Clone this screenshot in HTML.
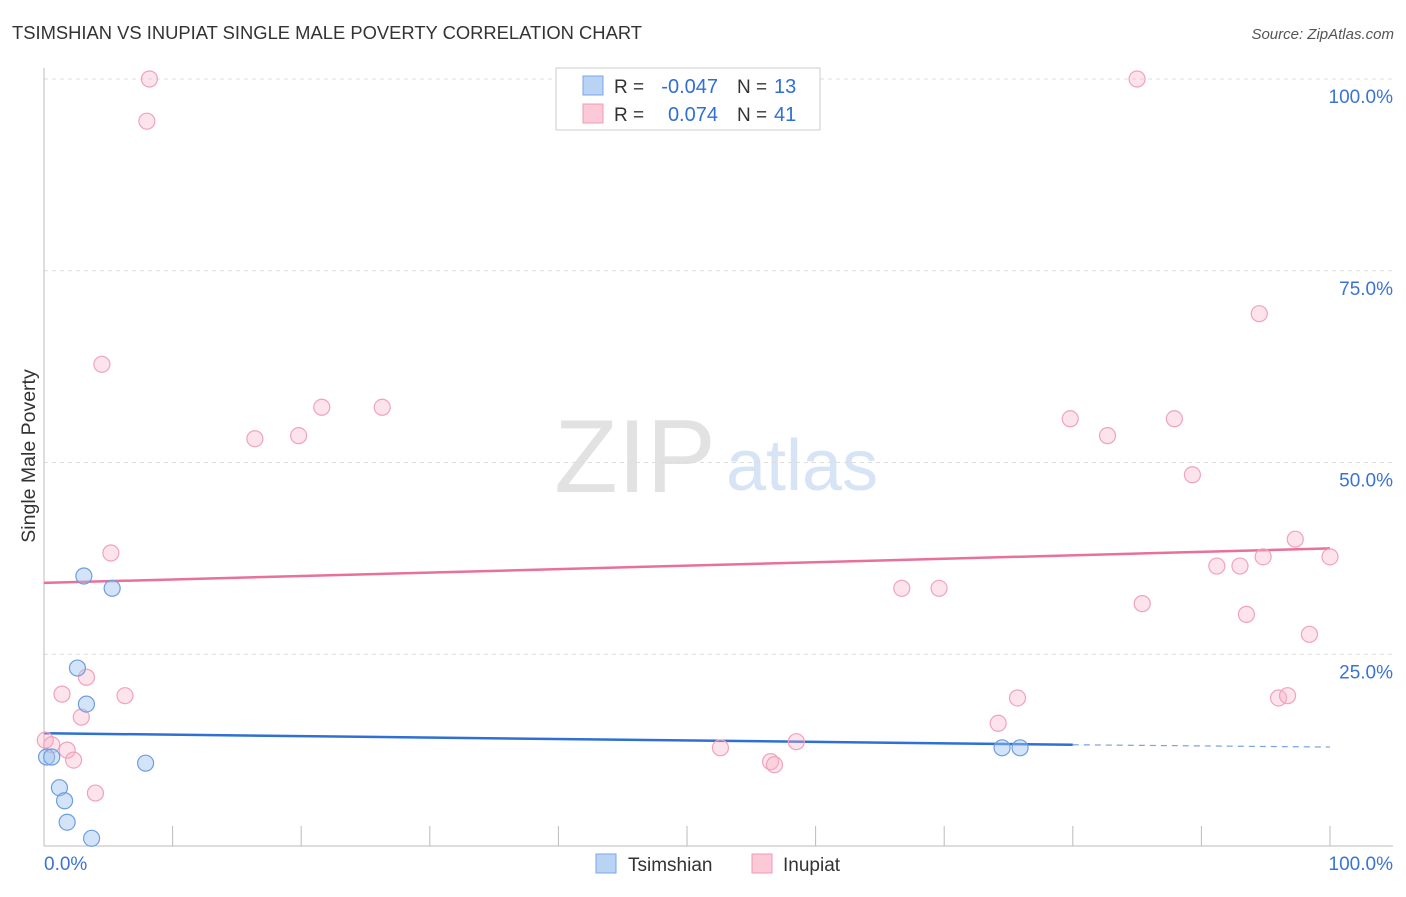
<!DOCTYPE html>
<html><head><meta charset="utf-8"><style>
body{margin:0;background:#fff;font-family:"Liberation Sans",sans-serif;}
svg text{font-family:"Liberation Sans",sans-serif;}
</style></head><body>
<svg id="c" width="1406" height="892">
<text x="12" y="39" font-size="18" fill="#333" textLength="630" lengthAdjust="spacingAndGlyphs">TSIMSHIAN VS INUPIAT SINGLE MALE POVERTY CORRELATION CHART</text>
<text x="1394" y="39" font-size="15" fill="#555" font-style="italic" text-anchor="end">Source: ZipAtlas.com</text>
<text x="35" y="456" font-size="19.5" fill="#333" text-anchor="middle" transform="rotate(-90 35 456)">Single Male Poverty</text>
<g><text x="635" y="492" font-size="104" fill="#e2e2e2" font-family="Liberation Serif" text-anchor="middle">ZIP</text><text x="802" y="490" font-size="72" fill="#d6e4f6" text-anchor="middle">atlas</text></g>
<g id="grid"></g><g id="axes"></g><g id="lines"></g><g id="pts"></g>
<g>
<rect x="556" y="68" width="264" height="62" fill="#fff" stroke="#ccc"/>
<rect x="583" y="76" width="20" height="19" fill="#b9d3f5" stroke="#7aa6e6"/>
<rect x="583" y="104" width="20" height="19" fill="#fbc9d7" stroke="#f09ab3"/>
<text x="614" y="93" font-size="19" fill="#333">R =</text>
<text x="718" y="93" font-size="20" fill="#2f6fd6" text-anchor="end">-0.047</text>
<text x="737" y="93" font-size="19" fill="#333">N =</text>
<text x="774" y="93" font-size="20" fill="#2f6fd6">13</text>
<text x="614" y="121" font-size="19" fill="#333">R =</text>
<text x="718" y="121" font-size="20" fill="#2f6fd6" text-anchor="end">0.074</text>
<text x="737" y="121" font-size="19" fill="#333">N =</text>
<text x="774" y="121" font-size="20" fill="#2f6fd6">41</text>
</g>
<g>
<rect x="596" y="854" width="20" height="19" fill="#b9d3f5" stroke="#7aa6e6"/>
<text x="628" y="871" font-size="19" fill="#333">Tsimshian</text>
<rect x="752" y="854" width="20" height="19" fill="#fbc9d7" stroke="#f09ab3"/>
<text x="783" y="871" font-size="19" fill="#333">Inupiat</text>
</g>
</svg>
<script>
const yTicks=[25,50,75,100];
const yTickLabels=["25.0%","50.0%","75.0%","100.0%"];
const xTickLabels=["0.0%","100.0%"];
const tsX=[0.2,0.6,3.1,5.3,2.6,3.3,7.9,1.2,1.6,1.8,3.7,74.5,75.9];
const tsY=[11.6,11.6,35.2,33.6,23.2,18.5,10.8,7.6,5.9,3.1,1.0,12.8,12.8];
const inX=[8.2,8.0,4.5,5.2,1.4,3.3,6.3,2.9,1.8,2.3,4.0,0.1,0.6,16.4,19.8,21.6,26.3,52.6,56.5,56.8,58.5,66.7,69.6,74.2,75.7,79.8,82.7,85.0,85.4,87.9,89.3,91.2,93.0,93.5,94.5,94.8,96.0,96.7,97.3,98.4,100];
const inY=[100,94.5,62.8,38.2,19.8,22.0,19.6,16.8,12.5,11.2,6.9,13.8,13.2,53.1,53.5,57.2,57.2,12.8,11.0,10.6,13.6,33.6,33.6,16.0,19.3,55.7,53.5,100,31.6,55.7,48.4,36.5,36.5,30.2,69.4,37.7,19.3,19.6,40.0,27.6,37.7];
const tsTrend=[14.7,13.2,12.9];
const inTrend=[34.3,38.8];
const X=v=>44+12.86*v, Y=v=>846-7.67*v;
const NS="http://www.w3.org/2000/svg";
function mk(p,t,a){const e=document.createElementNS(NS,t);for(const k in a)e.setAttribute(k,a[k]);document.getElementById(p).appendChild(e);return e;}
yTicks.forEach((t,i)=>{
 const g=mk('grid','line',{x1:44,x2:1393,y1:Y(t),y2:Y(t),stroke:'#ddd','stroke-dasharray':'4,4'});
 
 
 const l=mk('grid','text',{x:1393,y:Y(t)+24,'font-size':19,fill:'#3b73d4','text-anchor':'end'});
 l.textContent=yTickLabels[i];
 
 
});
const ya=mk('axes','line',{x1:44,x2:44,y1:68,y2:846,stroke:'#bbb'});


const xa=mk('axes','line',{x1:44,x2:1393,y1:846,y2:846,stroke:'#bbb'});


for(let i=1;i<=10;i++){
 const t=mk('axes','line',{x1:X(i*10),x2:X(i*10),y1:826,y2:846,stroke:'#bbb'});
 
 
}
[[0,'start',44],[100,'end',1393]].forEach((d,i)=>{
 const l=mk('axes','text',{x:d[2],y:870,'font-size':19,fill:'#3b73d4','text-anchor':d[1]});
 l.textContent=xTickLabels[i];
 
 
});
inX.forEach((x,i)=>{
 const c=mk('pts','circle',{cx:X(x),cy:Y(inY[i]),r:8,fill:'rgba(248,176,198,0.35)',stroke:'#f0a3b9','stroke-width':1.2});
 
 
});
tsX.forEach((x,i)=>{
 const c=mk('pts','circle',{cx:X(x),cy:Y(tsY[i]),r:8,fill:'rgba(160,196,240,0.45)',stroke:'#6e9de0','stroke-width':1.2});
 
 
});
const pl=mk('lines','line',{x1:X(0),y1:Y(inTrend[0]),x2:X(100),y2:Y(inTrend[1]),stroke:'#e8709a','stroke-width':2.5});


const bl=mk('lines','line',{x1:X(0),y1:Y(tsTrend[0]),x2:X(80),y2:Y(tsTrend[1]),stroke:'#2f6fd6','stroke-width':2.5});


const bd=mk('lines','line',{x1:X(80),y1:Y(tsTrend[1]),x2:X(100),y2:Y(tsTrend[2]),stroke:'#7aa2e0','stroke-width':1.2,'stroke-dasharray':'6,5'});


</script>
</body></html>
